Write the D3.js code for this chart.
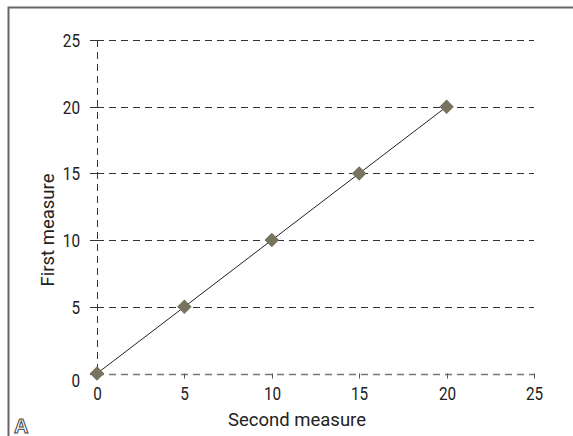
<!DOCTYPE html>
<html><head><meta charset="utf-8">
<script src="https://cdn.jsdelivr.net/npm/d3@7"></script>
<style>
body{margin:0;background:#fff;}
svg{display:block;}
.tick-lbl{font-family:Roboto,"Liberation Sans",sans-serif;font-size:18px;fill:#222;}
.title{font-family:Roboto,"Liberation Sans",sans-serif;font-size:18.5px;fill:#222;}
</style></head>
<body>
<svg id="c" width="573" height="436"></svg>
<script>
const xValues = [0, 5, 10, 15, 20];
const yValues = [0, 5, 10, 15, 20];
const xTicks = [0, 5, 10, 15, 20, 25];
const yTicks = [0, 5, 10, 15, 20, 25];
const xTitle = "Second measure";
const yTitle = "First measure";
const panelLabel = "A";

const svg = d3.select("#c");
// frame
svg.append("rect").attr("x", 8.5).attr("y", 7.5).attr("width", 600).attr("height", 500)
  .attr("fill", "none").attr("stroke", "#666").attr("stroke-width", 2);

const x = d3.scaleLinear().domain([0, 25]).range([97, 534]);
const y = d3.scaleLinear().domain([0, 25]).range([373.5, 40]);

// horizontal gridlines
yTicks.filter(d => d > 0).forEach(d => {
  svg.append("line").attr("x1", x(0)).attr("x2", x(25)).attr("y1", Math.round(y(d)) + 0.5).attr("y2", Math.round(y(d)) + 0.5)
    .attr("stroke", "#333").attr("stroke-width", 1).attr("stroke-dasharray", "7,5");
});
// y axis dashed line
svg.append("line").attr("x1", x(0) + 0.5).attr("x2", x(0) + 0.5).attr("y1", y(25)).attr("y2", y(0))
  .attr("stroke", "#333").attr("stroke-width", 1).attr("stroke-dasharray", "7,5");
// x axis dashed line
svg.append("line").attr("x1", x(0)).attr("x2", x(25)).attr("y1", Math.round(y(0)) + 0.5).attr("y2", Math.round(y(0)) + 0.5)
  .attr("stroke", "#777").attr("stroke-width", 1.5).attr("stroke-dasharray", "7,5");

// y ticks
yTicks.forEach(d => {
  const yy = Math.round(y(d)) + 0.5;
  svg.append("line").attr("x1", x(0) - 7).attr("x2", x(0)).attr("y1", yy).attr("y2", yy).attr("stroke", "#333");
  svg.append("text").attr("class", "tick-lbl")
    .attr("transform", `translate(80,${yy + (d === 0 ? 6 : 0)}) scale(0.85,1)`).attr("dy", "0.36em")
    .attr("text-anchor", "end").text(d);
});
// x ticks
xTicks.forEach(d => {
  const xx = Math.round(x(d)) + 0.5;
  if (d > 0) svg.append("line").attr("x1", xx).attr("x2", xx).attr("y1", y(0)).attr("y2", y(0) + 5).attr("stroke", "#555");
  svg.append("text").attr("class", "tick-lbl")
    .attr("transform", `translate(${xx},399.5) scale(0.85,1)`)
    .attr("text-anchor", "middle").text(d);
});

// line
svg.append("path").datum(xValues.map((v, i) => [v, yValues[i]]))
  .attr("d", d3.line().x(d => x(d[0])).y(d => y(d[1])))
  .attr("fill", "none").attr("stroke", "#222").attr("stroke-width", 1);

// diamonds
svg.selectAll(".pt").data(xValues.map((v, i) => [v, yValues[i]])).enter().append("path")
  .attr("transform", d => `translate(${x(d[0])},${y(d[1])}) rotate(45)`)
  .attr("d", d3.symbol().type(d3.symbolSquare).size(105))
  .attr("fill", "#77735f");

// titles
svg.append("text").attr("class", "title").attr("x", 297).attr("y", 426).attr("text-anchor", "middle").text(xTitle);
svg.append("text").attr("class", "title").attr("transform", "translate(54,230) rotate(-90)")
  .attr("text-anchor", "middle").text(yTitle);

svg.append("text").attr("x", 14).attr("y", 433).attr("font-family", "Liberation Sans, sans-serif")
  .attr("font-weight", "bold").attr("font-size", 20).attr("fill", "#fff").attr("stroke", "#444").attr("stroke-width", 1).text(panelLabel);
</script>
</body></html>
